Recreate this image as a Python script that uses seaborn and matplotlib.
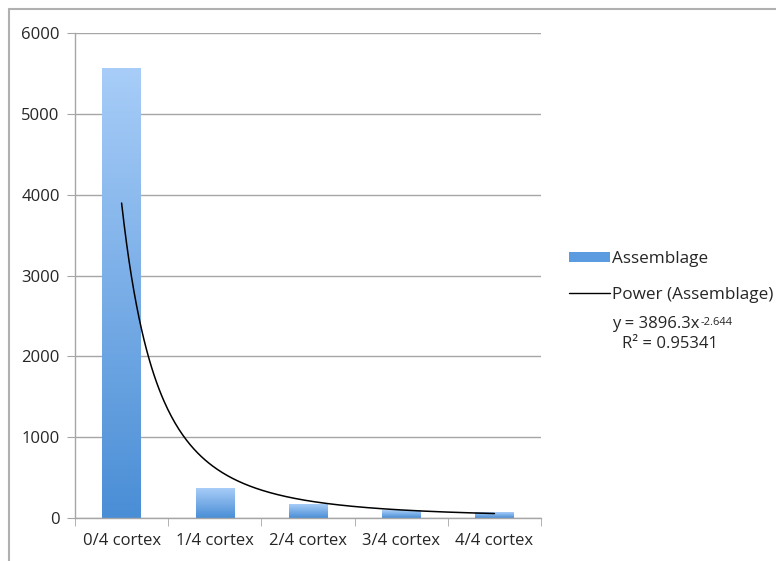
import numpy as np
import pandas as pd
import matplotlib.pyplot as plt
import matplotlib.lines as mlines
import matplotlib.patches as mpatches
from matplotlib.colors import LinearSegmentedColormap
import seaborn as sns

categories = ["0/4 cortex", "1/4 cortex", "2/4 cortex", "3/4 cortex", "4/4 cortex"]
assemblage = [5570, 370, 170, 95, 70]
# power trendline coefficients as printed on the chart
fit_a = 3896.3
fit_b = -2.644
fit_r2 = 0.95341

sns.set_style("white")
plt.rcParams["font.family"] = ["Open Sans", "DejaVu Sans"]

df = pd.DataFrame({"category": categories, "count": assemblage})

fig = plt.figure(figsize=(7.76, 5.61), dpi=100)
ax = fig.add_axes([75 / 776, 1 - 518 / 561, (541 - 75) / 776, (518 - 33) / 561])

sns.barplot(data=df, x="category", y="count", ax=ax, width=0.41,
            color="#5b9be0", saturation=1, zorder=2)

# vertical gradient fill for each bar
grad_cmap = LinearSegmentedColormap.from_list("bar", ["#4a8ed6", "#a8cdf8"])
grad = np.linspace(0, 1, 256).reshape(-1, 1)
for p in ax.patches:
    x0, y0 = p.get_x(), p.get_y()
    w, h = p.get_width(), p.get_height()
    im = ax.imshow(grad, cmap=grad_cmap, origin="lower", aspect="auto",
                   extent=[x0, x0 + w, y0, y0 + h], zorder=2)
    im.set_clip_path(p)
    p.set_facecolor("none")
    p.set_edgecolor("none")

# power trendline over x = 1..5 (category positions 0..4)
xs = np.linspace(1, 5, 300)
ax.plot(xs - 1, fit_a * xs ** fit_b, color="black", lw=1.1, zorder=3)

ax.set_xlim(-0.5, 4.5)
ax.set_ylim(0, 6000)
ax.set_yticks(range(0, 6001, 1000))
ax.set_xlabel("")
ax.set_ylabel("")
ax.yaxis.grid(True, color="#a6a6a6", lw=1)
ax.set_axisbelow(True)
for s in ["top", "right"]:
    ax.spines[s].set_visible(False)
for s in ["left", "bottom"]:
    ax.spines[s].set_color("#a6a6a6")
    ax.spines[s].set_linewidth(1)
ax.tick_params(axis="y", left=True, length=6, color="#a6a6a6", labelsize=12, pad=5)
ax.tick_params(axis="x", bottom=False, labelsize=12, pad=7)
# x ticks between categories
ax.set_xticks(np.arange(-0.5, 5, 1), minor=True)
ax.tick_params(axis="x", which="minor", bottom=True, length=6, color="#a6a6a6")

# legend
bar_handle = mpatches.Patch(facecolor="#5b9be0", edgecolor="none")
line_handle = mlines.Line2D([], [], color="black", lw=1)
fig.legend([bar_handle, line_handle], ["Assemblage", "Power (Assemblage)"],
           loc="upper left", bbox_to_anchor=(569 / 776, 1 - 251 / 561),
           frameon=False, fontsize=12.3, handlelength=2.4, handleheight=0.5,
           handletextpad=0.1, labelspacing=1.15, borderaxespad=0, borderpad=0)
eq = fig.text(612 / 776, 1 - 324 / 561, f"y = {fit_a}x", ha="left", va="center", fontsize=12)
ax.annotate(f"{fit_b}", xy=(1, 1), xycoords=eq, xytext=(0.5, -1), textcoords="offset points",
            ha="left", va="top", fontsize=8)
fig.text(670 / 776, 1 - 344 / 561, f"R² = {fit_r2}", ha="center", va="center", fontsize=12)

# chart frame
fig.add_artist(mlines.Line2D([9 / 776, 1], [1 - 9 / 561, 1 - 9 / 561], color="#b0b0b0", lw=1.5))
fig.add_artist(mlines.Line2D([9 / 776, 9 / 776], [0, 1 - 9 / 561], color="#b0b0b0", lw=1.5))

fig.savefig("out.png", dpi=100)
